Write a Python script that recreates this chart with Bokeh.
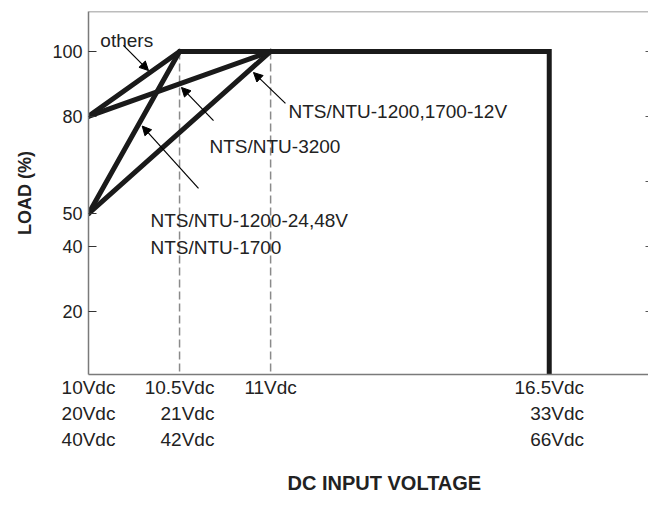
from bokeh.plotting import figure
from bokeh.models import (LinearAxis, FixedTicker, Label, Arrow, NormalHead,
                          Span, Title, Range1d)
from bokeh.embed import file_html
from bokeh.resources import INLINE

# ---- data -------------------------------------------------------------
# drawn position of each voltage tick on the (non-linear) input-voltage axis
x_tick_pos = [0, 1, 2, 5.06]
# lines of each tick label are right-aligned in the reference: padding spaces
x_tick_labels = ["10Vdc\n20Vdc\n40Vdc",
                 "10.5Vdc\n\u2007\u200821Vdc\n\u2007\u200842Vdc",
                 "11Vdc",
                 "16.5Vdc\n\u2007\u200833Vdc\n\u2007\u200866Vdc"]
y_ticks_left = [20, 40, 50, 80, 100]
y_ticks_right = [20, 40, 60, 80, 100]

others_x = [0, 1]
others_y = [80, 100]
nts12v_x = [0, 2]
nts12v_y = [50, 100]
nts3200_x = [0, 2]
nts3200_y = [80, 100]
nts2448_x = [0, 1]
nts2448_y = [50, 100]
plateau_x = [1, 5.06, 5.06]
plateau_y = [100, 100, 0]
guide_x = [1, 2]
guide_top = [100, 100]
guide_bottom = [0, 0]

FONT = "Liberation Sans"
TXT = "#222222"
GRID = "#7a7a7a"
LINE = "#1a1a1a"

p = figure(width=648, height=509, output_backend="svg", toolbar_location=None,
           x_range=Range1d(0, 6.15), y_range=Range1d(0.46, 112.3),
           min_border_left=88, min_border_right=0, min_border_top=11,
           min_border_bottom=135)
p.outline_line_color = None
p.grid.visible = False
p.background_fill_color = "white"

# ---- axes --------------------------------------------------------------
xa = p.xaxis[0]
xa.ticker = FixedTicker(ticks=x_tick_pos)
xa.major_label_overrides = {k: v for k, v in zip(x_tick_pos, x_tick_labels)}
xa.major_tick_in = 0
xa.major_tick_out = 0
xa.minor_tick_line_color = None
xa.axis_line_color = GRID
xa.axis_line_width = 1.5
xa.major_label_text_font = FONT
xa.major_label_text_font_size = "19px"
xa.major_label_text_color = TXT
xa.major_label_text_line_height = 1.25
xa.major_label_standoff = 2

ya = p.yaxis[0]
ya.ticker = FixedTicker(ticks=y_ticks_left)
ya.major_tick_in = 8
ya.major_tick_out = 0
ya.minor_tick_line_color = None
ya.axis_line_color = GRID
ya.axis_line_width = 1.5
ya.major_tick_line_color = "#333333"
ya.major_label_text_font = FONT
ya.major_label_text_font_size = "18px"
ya.major_label_text_color = TXT
ya.major_label_standoff = 6
ya.axis_label = "LOAD (%)"
ya.axis_label_text_font = FONT
ya.axis_label_text_font_size = "18px"
ya.axis_label_text_font_style = "bold"
ya.axis_label_text_color = TXT
ya.axis_label_standoff = 14

ra = LinearAxis(ticker=FixedTicker(ticks=y_ticks_right), axis_line_color=None,
                major_tick_in=3, major_tick_out=0, minor_tick_line_color=None,
                major_tick_line_color="#555555",
                major_label_overrides={t: "" for t in y_ticks_right},
                major_label_standoff=0)
p.add_layout(ra, "right")

p.add_layout(Span(location=112.3, dimension="width", line_color=GRID,
                  line_width=1.5))

p.add_layout(Title(text="DC INPUT VOLTAGE", align="left", offset=199,
                   text_font=FONT, text_font_size="20px", text_font_style="bold",
                   text_color=TXT, standoff=32), "below")

# ---- curves ------------------------------------------------------------
p.segment(x0=guide_x, y0=guide_top, x1=guide_x, y1=guide_bottom,
          line_color="#8a8a8a", line_width=1.5, line_dash="8 4")

for xs, ys in [(others_x, others_y), (nts12v_x, nts12v_y),
               (nts3200_x, nts3200_y), (nts2448_x, nts2448_y)]:
    p.line(xs, ys, line_color=LINE, line_width=5, line_cap="round")
p.line(plateau_x, plateau_y, line_color=LINE, line_width=5, line_join="miter")

# ---- annotations -------------------------------------------------------
def lab(x, y, t):
    p.add_layout(Label(x=x, y=y, text=t, text_font=FONT, text_font_size="19px",
                       text_color=TXT, text_baseline="alphabetic"))

lab(0.13, 103.4, "others")
lab(2.196, 81.5, "NTS/NTU-1200,1700-12V")
lab(1.329, 70.7, "NTS/NTU-3200")
lab(0.681, 47.9, "NTS/NTU-1200-24,48V")
lab(0.681, 39.6, "NTS/NTU-1700")

def arr(xs, ys, xe, ye):
    p.add_layout(Arrow(end=NormalHead(size=9, fill_color="black",
                                      line_color="black", line_width=1),
                       x_start=xs, y_start=ys, x_end=xe, y_end=ye,
                       line_color="black", line_width=1.2))

arr(0.384, 101.85, 0.659, 94.1)
arr(2.163, 84.0, 1.812, 93.5)
arr(1.373, 78.7, 1.021, 88.9)
arr(1.208, 57.8, 0.59, 77.0)

open("out.html", "w").write(file_html(p, INLINE))
